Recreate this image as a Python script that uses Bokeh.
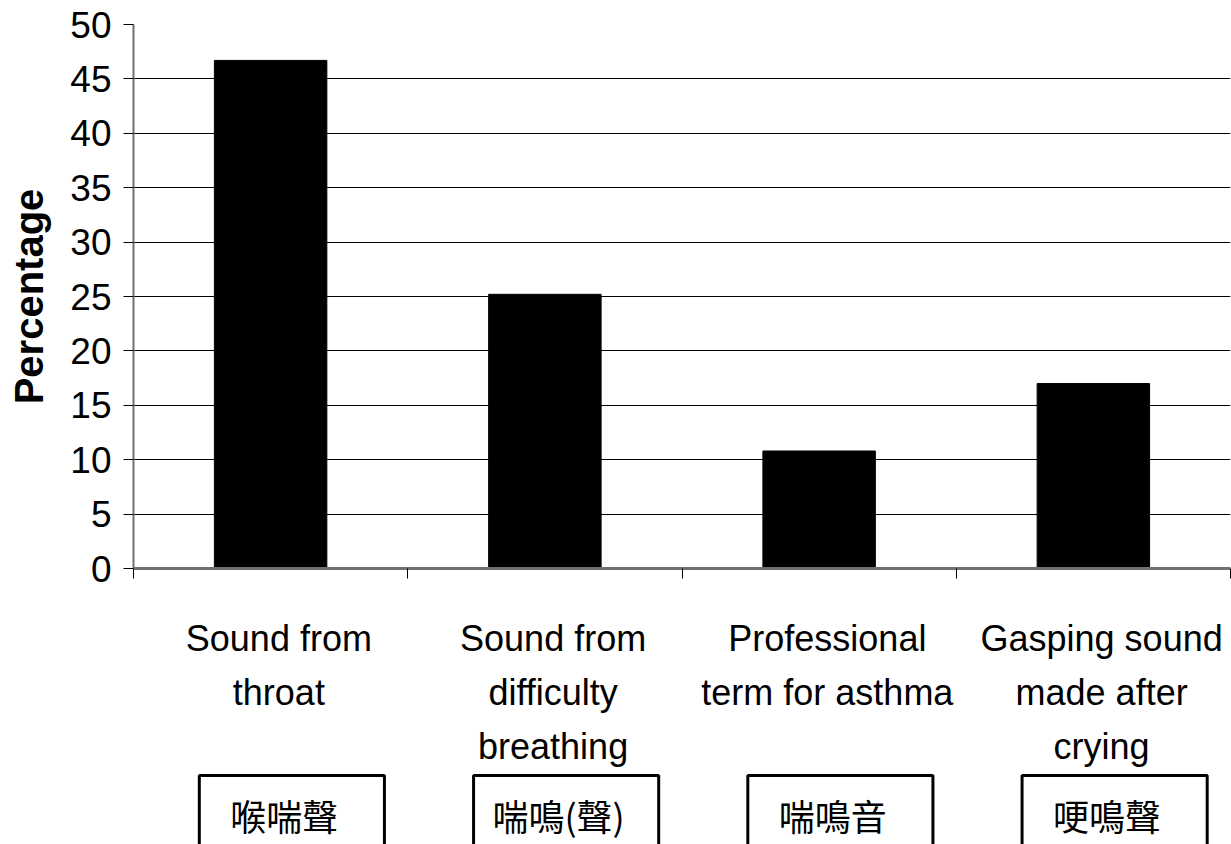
from bokeh.plotting import figure
from bokeh.layouts import column
from bokeh.models import FixedTicker, Range1d, ColumnDataSource
from bokeh.core.properties import value
from bokeh.embed import file_html
from bokeh.resources import INLINE

# ---- data ----
categories = [
    "Sound from\nthroat",
    "Sound from\ndifficulty\nbreathing",
    "Professional\nterm for asthma",
    "Gasping sound\nmade after\ncrying",
]
chinese_terms = ["喉喘聲", "喘鳴(聲)", "喘鳴音", "哽鳴聲"]
percentages = [46.7, 25.2, 10.8, 17.0]
y_ticks = [0, 5, 10, 15, 20, 25, 30, 35, 40, 45, 50]

# ---- layout ----
W, H = 1231, 844
FL, FR, FT, FB = 133, 1230, 24, 568
BOTTOM_PAD = 30
H1 = FB + BOTTOM_PAD          # height of chart figure
H2 = H - H1                   # height of label strip below it
Y_MAX = 50

p = figure(width=W, height=H1, output_backend="svg", toolbar_location=None,
           x_range=Range1d(0, len(categories)), y_range=Range1d(0, Y_MAX),
           min_border_left=FL, min_border_right=W - FR,
           min_border_top=FT, min_border_bottom=BOTTOM_PAD)
p.outline_line_color = None
p.background_fill_color = "white"
p.border_fill_color = "white"

xs = [i + 0.5 for i in range(len(categories))]
p.vbar(x=xs, top=percentages, width=0.41, fill_color="black", line_color="black")

# y axis
p.yaxis.ticker = FixedTicker(ticks=y_ticks)
p.yaxis.axis_label = "Percentage"
p.yaxis.axis_label_text_font = "Liberation Sans"
p.yaxis.axis_label_text_font_style = "bold"
p.yaxis.axis_label_text_font_size = "40px"
p.yaxis.axis_label_text_color = "black"
p.yaxis.axis_label_standoff = 16
p.yaxis.major_label_text_font = "Liberation Sans"
p.yaxis.major_label_text_font_size = "37px"
p.yaxis.major_label_text_color = "black"
p.yaxis.major_label_standoff = 12
p.yaxis.major_tick_out = 10
p.yaxis.major_tick_in = 0
p.yaxis.major_tick_line_color = "black"
p.yaxis.minor_tick_line_color = None
p.yaxis.axis_line_color = "#707070"
p.yaxis.axis_line_width = 2

p.ygrid.ticker = FixedTicker(ticks=y_ticks)
p.ygrid.grid_line_color = "black"
p.ygrid.grid_line_width = 1
p.xgrid.grid_line_color = None

# x axis: ticks at category boundaries; category names are in the strip below
p.xaxis.ticker = FixedTicker(ticks=list(range(len(categories) + 1)))
p.xaxis.major_label_text_color = None
p.xaxis.major_label_text_font_size = "1px"
p.xaxis.major_label_standoff = 0
p.xaxis.major_tick_out = 10
p.xaxis.major_tick_in = 0
p.xaxis.major_tick_line_color = "black"
p.xaxis.minor_tick_line_color = None
p.xaxis.axis_line_color = "#707070"
p.xaxis.axis_line_width = 3

# ---- label strip (y measured downward in pixels from top of strip) ----
p2 = figure(width=W, height=H2, output_backend="svg", toolbar_location=None,
            x_range=p.x_range, y_range=Range1d(H2, 0),
            x_axis_location=None, y_axis_location=None,
            min_border_left=FL, min_border_right=W - FR,
            min_border_top=0, min_border_bottom=0)
p2.outline_line_color = None
p2.background_fill_color = "white"
p2.border_fill_color = "white"
p2.xgrid.visible = False
p2.ygrid.visible = False


def sy(py):
    """canvas pixel row -> strip coordinate"""
    return py - H1


lx, ly, lt = [], [], []
for i, cat in enumerate(categories):
    for j, line in enumerate(cat.split("\n")):
        lx.append(i + 0.53)
        ly.append(sy(638 + 54 * j))
        lt.append(line)
p2.text(x="x", y="y", text="t", source=ColumnDataSource(dict(x=lx, y=ly, t=lt)),
        text_align="center", text_baseline="alphabetic",
        text_font=value("Liberation Sans"), text_font_size="36px", text_color="black")

n = len(chinese_terms)
p2.text(x=[i + 0.55 for i in range(n)], y=[sy(788)] * n, text=chinese_terms,
        text_align="center", text_baseline="top",
        text_font=value("Noto Sans CJK TC"), text_font_size="36px", text_color="black")
p2.quad(left=[i + 0.24 for i in range(n)], right=[i + 0.915 for i in range(n)],
        top=[sy(775)] * n, bottom=[sy(880)] * n,
        fill_color=None, line_color="black", line_width=3)

layout = column(p, p2, spacing=0)
open("out.html", "w").write(file_html(layout, INLINE))
